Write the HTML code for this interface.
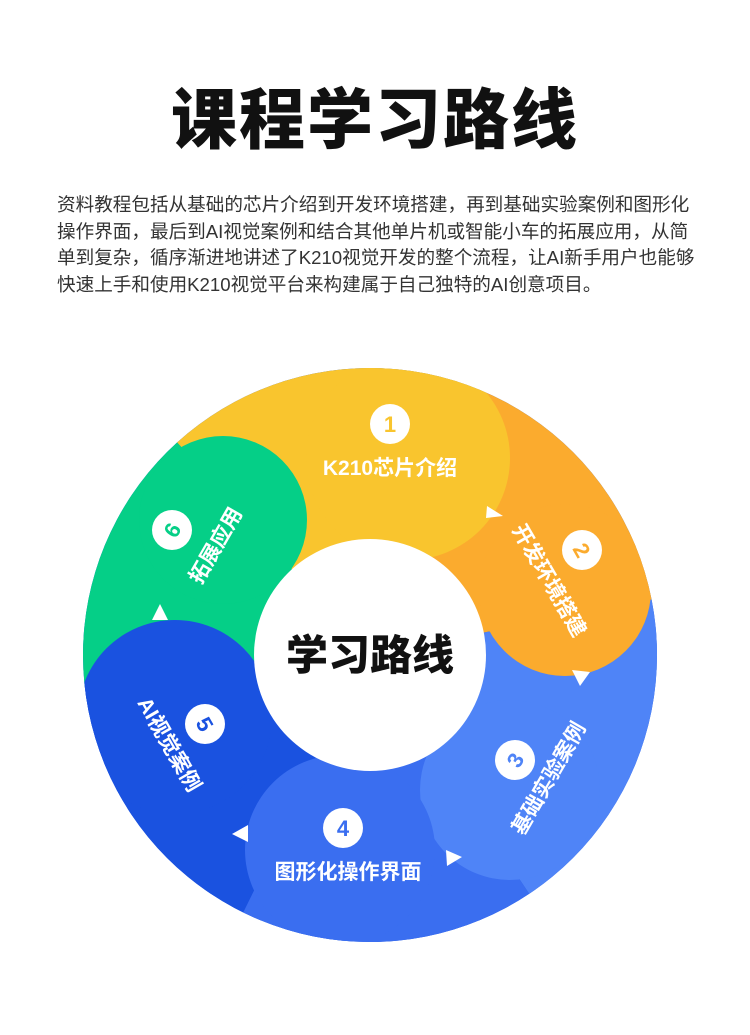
<!DOCTYPE html>
<html><head><meta charset="utf-8"><style>
html,body{margin:0;padding:0;background:#fff;width:750px;height:1035px;overflow:hidden;}
body{position:relative;font-family:"Liberation Sans","Noto Sans CJK SC",sans-serif;}
h1{position:absolute;left:0;width:750px;top:80px;margin:0;text-align:center;font-size:66px;font-weight:900;color:#111;line-height:80px;letter-spacing:2px;}
.p{position:absolute;left:57px;top:192px;font-size:18.6px;line-height:26.5px;color:#333;white-space:nowrap;}
svg{display:block;}
</style></head><body>
<h1>课程学习路线</h1>
<div class="p">资料教程包括从基础的芯片介绍到开发环境搭建，再到基础实验案例和图形化<br>操作界面，最后到AI视觉案例和结合其他单片机或智能小车的拓展应用，从简<br>单到复杂，循序渐进地讲述了K210视觉开发的整个流程，让AI新手用户也能够<br>快速上手和使用K210视觉平台来构建属于自己独特的AI创意项目。</div>
<svg width="750" height="1035" style="position:absolute;left:0;top:0" xmlns="http://www.w3.org/2000/svg">
<defs><clipPath id="c"><circle cx="370" cy="655" r="287"/></clipPath></defs>
<g clip-path="url(#c)">
<rect x="0" y="300" width="750" height="700" fill="#1a52e0"/>
<path d="M370 655 L727 -149 L1400 -149 L1360 460 Z" fill="#fbab2e"/>
<path d="M370 655 L1360 460 L1400 1700 L1060 1690 Z" fill="#4f84f7"/>
<path d="M370 655 L1060 1690 L-140 1690 Z" fill="#3a6ef0"/>
<path d="M370 655 L-140 1690 L-500 1690 L-500 750 Z" fill="#1a52e0"/>
<path d="M370 655 L-500 750 L-500 -400 L-410 -205 Z" fill="#05cf87"/>
<circle cx="510" cy="790" r="90" fill="#4f84f7"/>
<circle cx="340" cy="850" r="95" fill="#3a6ef0"/>
<circle cx="175" cy="717" r="97" fill="#1a52e0"/>
<circle cx="565" cy="590" r="86" fill="#fbab2e"/>
<path d="M370 655 L727 -149 L-410 -205 Z" fill="#f9c52e"/>
<circle cx="408" cy="458" r="102" fill="#f9c52e"/>
<circle cx="223" cy="520" r="84" fill="#05cf87"/>
</g>
<circle cx="370" cy="655" r="116" fill="#fff"/>
<text x="370" y="670" text-anchor="middle" font-size="42" font-weight="900" fill="#111" font-family="Liberation Sans,Noto Sans CJK SC,sans-serif">学习路线</text>
<g fill="#fff">
<path d="M487 506 L503 516 L486 518 Z"/>
<path d="M572 670 L590 672 L580 686 Z"/>
<path d="M446 850 L462 857 L447 866 Z"/>
<path d="M248 825 L232 834 L248 842 Z"/>
<path d="M152 620 L160 604 L168 620 Z"/>
</g>
<g font-family="Liberation Sans,Noto Sans CJK SC,sans-serif" font-weight="700" fill="#fff" font-size="21" text-anchor="middle">
<circle cx="390" cy="424" r="20"/><text x="390" y="432" fill="#f9c52e" font-size="22">1</text>
<text x="390" y="475">K210芯片介绍</text>
<circle cx="582" cy="550" r="20"/><text x="582" y="558" fill="#fbab2e" font-size="22" transform="rotate(60 582 550)">2</text>
<text x="550" y="588" transform="rotate(60 550 580)">开发环境搭建</text>
<circle cx="515" cy="760" r="20"/><text x="515" y="768" fill="#4f84f7" font-size="22" transform="rotate(-60 515 760)">3</text>
<text x="548" y="786" transform="rotate(-60 548 778)">基础实验案例</text>
<circle cx="343" cy="828" r="20"/><text x="343" y="836" fill="#3a6ef0" font-size="22">4</text>
<text x="348" y="879">图形化操作界面</text>
<circle cx="205" cy="724" r="20"/><text x="205" y="732" fill="#1a52e0" font-size="22" transform="rotate(60 205 724)">5</text>
<text x="170" y="752" transform="rotate(60 170 744)">AI视觉案例</text>
<circle cx="172" cy="530" r="20"/><text x="172" y="538" fill="#05cf87" font-size="22" transform="rotate(-60 172 530)">6</text>
<text x="215" y="553" transform="rotate(-60 215 545)">拓展应用</text>
</g>
</svg>
</body></html>
